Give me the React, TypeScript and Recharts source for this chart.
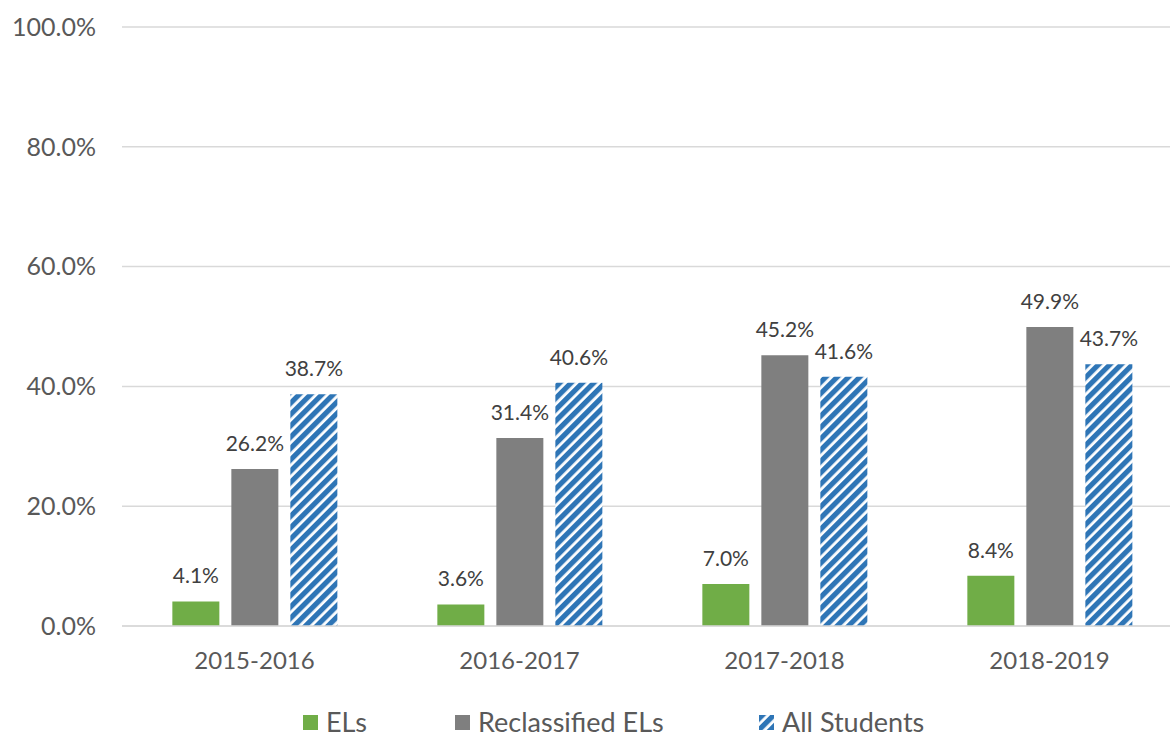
import { Bar, BarChart, CartesianGrid, LabelList, Legend, XAxis, YAxis } from "recharts";

const categories = ["2015-2016", "2016-2017", "2017-2018", "2018-2019"];
const els = [4.1, 3.6, 7.0, 8.4];
const reclassified = [26.2, 31.4, 45.2, 49.9];
const allStudents = [38.7, 40.6, 41.6, 43.7];
const yTicks = [0, 20, 40, 60, 80, 100];

const data = categories.map((year, i) => ({
  year,
  els: els[i],
  reclassified: reclassified[i],
  allStudents: allStudents[i],
}));

const GREEN = "#70AD47";
const GRAY = "#7F7F7F";
const BLUE = "#2E75B6";
const TEXT = "#595959";
const LABEL = "#404040";
const FONT = "Lato, 'Open Sans', sans-serif";

const pct = (v: number) => `${v.toFixed(1)}%`;

const legendItems = [
  { label: "ELs", fill: GREEN, left: 303 },
  { label: "Reclassified ELs", fill: GRAY, left: 455 },
  { label: "All Students", fill: "url(#stripesLegend)", left: 759 },
];

function StripePattern({ id }: { id: string }) {
  return (
    <pattern
      id={id}
      patternUnits="userSpaceOnUse"
      width={8}
      height={8}
      patternTransform="rotate(45)"
    >
      <rect width={8} height={8} fill="#fff" />
      <rect width={5.2} height={8} fill={BLUE} />
    </pattern>
  );
}

function StripeLegend() {
  return (
    <div style={{ position: "relative", width: 1182, height: 40, fontFamily: FONT }}>
      {legendItems.map((item) => (
        <div
          key={item.label}
          style={{
            position: "absolute",
            left: item.left,
            top: 13,
            display: "flex",
            alignItems: "center",
            gap: 8,
            fontSize: 27,
            color: TEXT,
            lineHeight: "24px",
            height: 24,
          }}
        >
          <svg width={15} height={15} style={{ display: "block" }}>
            <defs>
              <StripePattern id="stripesLegend" />
            </defs>
            <rect width={15} height={15} fill={item.fill} />
          </svg>
          <span>{item.label}</span>
        </div>
      ))}
    </div>
  );
}

const labelProps = {
  position: "top" as const,
  offset: 18,
  formatter: pct as never,
  fill: LABEL,
  fontSize: 21,
  fontFamily: FONT,
};

export default function App() {
  return (
    <div
      style={{
        position: "absolute",
        left: 0,
        top: 0,
        width: 1170,
        height: 737,
        overflow: "hidden",
        background: "#fff",
      }}
    >
      <BarChart
        width={1182}
        height={737}
        data={data}
        margin={{ top: 27, right: 0, left: 0, bottom: 0 }}
        barCategoryGap="19%"
        barGap={12}
      >
        <defs>
          <StripePattern id="stripes" />
        </defs>
        <CartesianGrid vertical={false} stroke="#D9D9D9" strokeWidth={1.5} />
        <XAxis
          dataKey="year"
          axisLine={{ stroke: "#D9D9D9", strokeWidth: 1.5 }}
          tickLine={false}
          tickMargin={20}
          height={71}
          tick={{ fill: TEXT, fontSize: 24, fontFamily: FONT }}
        />
        <YAxis
          domain={[0, 100]}
          ticks={yTicks}
          tickFormatter={pct}
          axisLine={false}
          tickLine={false}
          tickMargin={20}
          width={122}
          tick={{ fill: TEXT, fontSize: 25, fontFamily: FONT }}
        />
        <Legend verticalAlign="bottom" height={40} content={() => <StripeLegend />} />
        <Bar dataKey="els" name="ELs" fill={GREEN} isAnimationActive={false}>
          <LabelList dataKey="els" {...labelProps} />
        </Bar>
        <Bar dataKey="reclassified" name="Reclassified ELs" fill={GRAY} isAnimationActive={false}>
          <LabelList dataKey="reclassified" {...labelProps} />
        </Bar>
        <Bar dataKey="allStudents" name="All Students" fill="url(#stripes)" isAnimationActive={false}>
          <LabelList dataKey="allStudents" {...labelProps} />
        </Bar>
      </BarChart>
    </div>
  );
}
